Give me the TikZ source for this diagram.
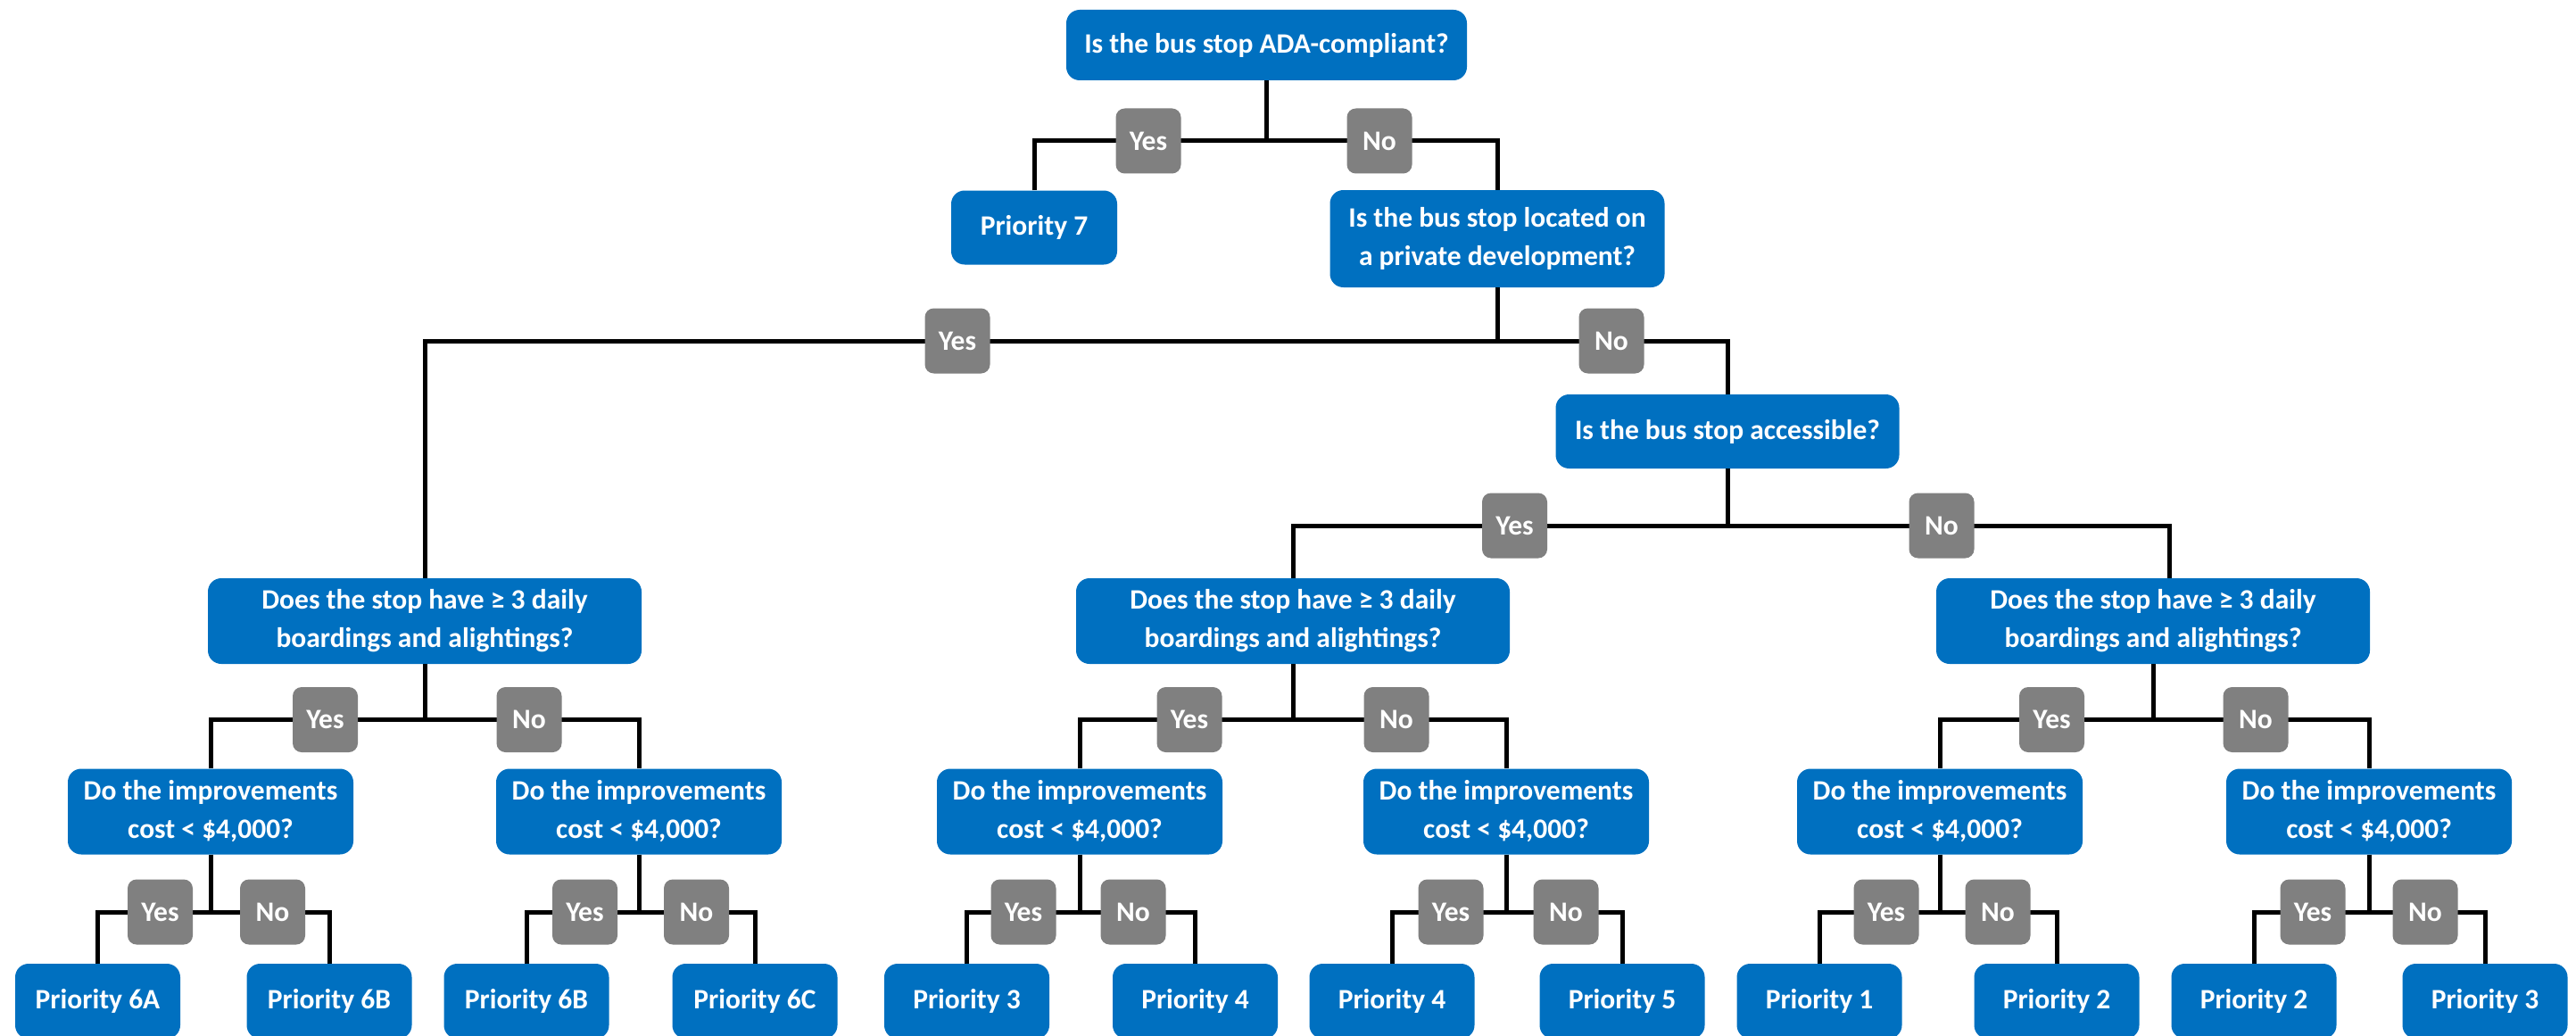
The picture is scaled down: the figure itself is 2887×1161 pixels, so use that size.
\documentclass[tikz,border=0pt]{standalone}
\usepackage{fontspec}
\setmainfont{Carlito}
\definecolor{boxblue}{HTML}{0070C0}
\definecolor{labgray}{HTML}{808080}
\tikzset{
  qbox/.style={fill=boxblue, rounded corners=15pt, text=white, align=center, inner sep=0pt,
    font=\fontsize{31.5}{43}\selectfont\bfseries},
  leafbox/.style={qbox, minimum width=185pt, minimum height=84pt},
  dobox/.style={qbox, minimum width=320pt, minimum height=96pt},
  doesbox/.style={qbox, minimum width=486pt, minimum height=96pt},
  yn/.style={fill=labgray, rounded corners=10pt, text=white, inner sep=0pt,
    minimum width=73pt, minimum height=73pt, font=\fontsize{31.5}{38}\selectfont\bfseries},
  conn/.style={line width=5pt, black},
}
\begin{document}
\begin{tikzpicture}[x=1pt,y=-1pt]
\clip (0,0) rectangle (2887,1161);
% decision nodes
\node[qbox, minimum width=449pt, minimum height=79pt] (q0) at (1419.5,50.5) {Is the bus stop ADA-compliant?};
\node[qbox, minimum width=186pt, minimum height=83pt] (p7) at (1159,255) {Priority 7};
\node[qbox, minimum width=375pt, minimum height=109pt] (q1) at (1678,267.5) {Is the bus stop located on\\a private development?};
\node[doesbox] (q2) at (476,696) {Does the stop have ≥ 3 daily\\boardings and alightings?};
\node[qbox, minimum width=385pt, minimum height=83pt] (q3) at (1936,483.5) {Is the bus stop accessible?};
\node[doesbox] (q4) at (1449,696) {Does the stop have ≥ 3 daily\\boardings and alightings?};
\node[doesbox] (q5) at (2413,696) {Does the stop have ≥ 3 daily\\boardings and alightings?};
\foreach \i/\x in {1/236,2/716,3/1210,4/1688,5/2174,6/2655}
  \node[dobox] (d\i) at (\x,909.5) {Do the improvements\\cost < \$4,000?};
% leaves
\node[leafbox] (l1) at (109.5,1122) {Priority 6A};
\node[leafbox] (l2) at (369,1122) {Priority 6B};
\node[leafbox] (l3) at (590,1122) {Priority 6B};
\node[leafbox] (l4) at (846,1122) {Priority 6C};
\node[leafbox] (l5) at (1083.5,1122) {Priority 3};
\node[leafbox] (l6) at (1339.5,1122) {Priority 4};
\node[leafbox] (l7) at (1560,1122) {Priority 4};
\node[leafbox] (l8) at (1818,1122) {Priority 5};
\node[leafbox] (l9) at (2039,1122) {Priority 1};
\node[leafbox] (l10) at (2305,1122) {Priority 2};
\node[leafbox] (l11) at (2526,1122) {Priority 2};
\node[leafbox] (l12) at (2785,1122) {Priority 3};
% junction levels
\coordinate (h0) at (0,158);
\coordinate (h1) at (0,382);
\coordinate (h3) at (0,589);
\coordinate (h4) at (0,806.5);
\coordinate (h5) at (0,1022);
% connectors
\draw[conn] (q0.south) -- (q0.south |- h0);
\draw[conn] (p7.north) -- (p7.north |- h0) -- (q1.north |- h0) -- (q1.north);
\draw[conn] (q1.south) -- (q1.south |- h1);
\draw[conn] (q2.north) -- (q2.north |- h1) -- (q3.north |- h1) -- (q3.north);
\draw[conn] (q3.south) -- (q3.south |- h3);
\draw[conn] (q4.north) -- (q4.north |- h3) -- ([xshift=18pt]q5.north |- h3) -- ([xshift=18pt]q5.north);
\foreach \p/\a/\b in {q2/d1/d2, q4/d3/d4, q5/d5/d6} {
  \draw[conn] (\p.south) -- (\p.south |- h4);
  \draw[conn] (\a.north) -- (\a.north |- h4) -- (\b.north |- h4) -- (\b.north);
}
\foreach \p/\a/\b in {d1/l1/l2, d2/l3/l4, d3/l5/l6, d4/l7/l8, d5/l9/l10, d6/l11/l12} {
  \draw[conn] (\p.south) -- (\p.south |- h5);
  \draw[conn] (\a.north) -- (\a.north |- h5) -- (\b.north |- h5) -- (\b.north);
}
% yes / no labels
\node[yn] (y0) at (1287,158) {Yes};
\node[yn] (n0) at (1546,158) {No};
\node[yn] (y1) at (1073,382) {Yes};
\node[yn] (n1) at (1806,382) {No};
\node[yn] (y3) at (1697.5,589) {Yes};
\node[yn] (n3) at (2176,589) {No};
\node[yn] (y21) at (364.5,806.5) {Yes};
\node[yn] (n21) at (593,806.5) {No};
\node[yn] (y22) at (1333,806.5) {Yes};
\node[yn] (n22) at (1565,806.5) {No};
\node[yn] (y23) at (2299.5,806.5) {Yes};
\node[yn] (n23) at (2528,806.5) {No};
\node[yn] (y31) at (179.5,1022) {Yes};
\node[yn] (n31) at (305.5,1022) {No};
\node[yn] (y32) at (655.5,1022) {Yes};
\node[yn] (n32) at (780.5,1022) {No};
\node[yn] (y33) at (1147,1022) {Yes};
\node[yn] (n33) at (1270,1022) {No};
\node[yn] (y34) at (1626,1022) {Yes};
\node[yn] (n34) at (1755,1022) {No};
\node[yn] (y35) at (2114,1022) {Yes};
\node[yn] (n35) at (2239,1022) {No};
\node[yn] (y36) at (2592,1022) {Yes};
\node[yn] (n36) at (2718,1022) {No};
\end{tikzpicture}
\end{document}
